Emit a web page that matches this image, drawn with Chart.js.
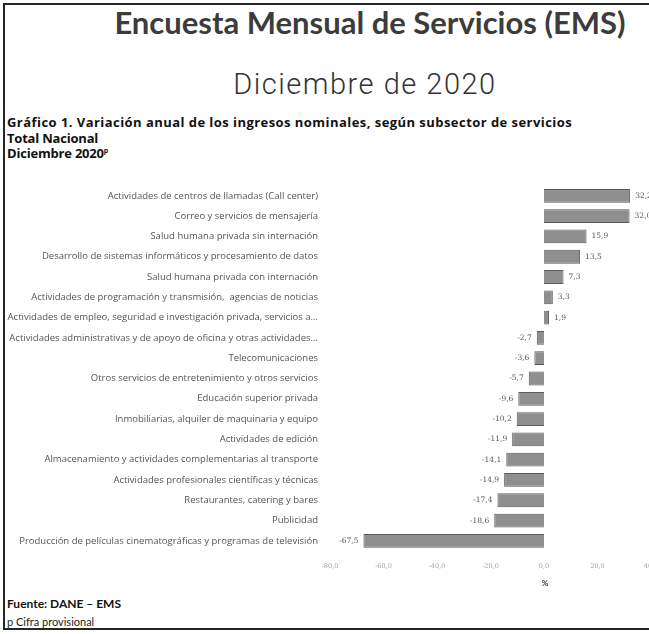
<!DOCTYPE html>
<html><head><meta charset="utf-8">
<script src="https://cdn.jsdelivr.net/npm/chart.js@4/dist/chart.umd.min.js"></script>
<style>
html,body{margin:0;padding:0;width:649px;height:634px;overflow:hidden;background:#fff;position:relative;}
.frame{position:absolute;left:3px;top:3px;width:720px;height:623px;border:2px solid #262626;}
.t1{position:absolute;left:0;width:740px;text-align:center;top:3px;font:bold 31px Lato,sans-serif;color:#3c3c3c;white-space:nowrap;}
.t2{position:absolute;left:0;width:730px;text-align:center;top:67px;font:300 29px Roboto,sans-serif;letter-spacing:1.5px;color:#333;white-space:nowrap;}
.h{position:absolute;left:7px;font:bold 13px "Open Sans",sans-serif;color:#111;white-space:nowrap;letter-spacing:0.45px;}
.f1{position:absolute;left:7px;top:596px;font:bold 12px Lato,sans-serif;color:#111;}
.f2{position:absolute;left:7px;top:615px;font:11px Lato,sans-serif;color:#222;}
#c{position:absolute;left:0;top:168px;}
</style></head>
<body>
<div class="frame"></div>
<div class="t1">Encuesta Mensual de Servicios (EMS)</div>
<div class="t2">Diciembre de 2020</div>
<div class="h" style="top:113px">Gráfico 1. Variación anual de los ingresos nominales, según subsector de servicios</div>
<div class="h" style="top:129px;letter-spacing:-0.2px">Total Nacional</div>
<div class="h" style="top:144px;letter-spacing:-0.2px">Diciembre 2020<sup style="font-size:7px">p</sup></div>
<canvas id="c" width="700" height="427"></canvas>
<div class="f1">Fuente: DANE – EMS</div>
<div class="f2">p Cifra provisional</div>
<script>
const categories = [
  "Actividades de centros de llamadas (Call center)",
  "Correo y servicios de mensajería",
  "Salud humana privada sin internación",
  "Desarrollo de sistemas informáticos y procesamiento de datos",
  "Salud humana privada con internación",
  "Actividades de programación y transmisión,  agencias de noticias",
  "Actividades de empleo, seguridad e investigación privada, servicios a...",
  "Actividades administrativas y de apoyo de oficina y otras actividades...",
  "Telecomunicaciones",
  "Otros servicios de entretenimiento y otros servicios",
  "Educación superior privada",
  "Inmobiliarias, alquiler de maquinaria y equipo",
  "Actividades de edición",
  "Almacenamiento y actividades complementarias al transporte",
  "Actividades profesionales científicas y técnicas",
  "Restaurantes, catering y bares",
  "Publicidad",
  "Producción de películas cinematográficas y programas de televisión"
];
const variacion = [32.2, 32.0, 15.9, 13.5, 7.3, 3.3, 1.9, -2.7, -3.6, -5.7, -9.6, -10.2, -11.9, -14.1, -14.9, -17.4, -18.6, -67.5];
const xTicks = [-80, -60, -40, -20, 0, 20, 40];
const unitLabel = '%';

const fmt = v => v.toFixed(1).replace('.', ',');

const valueLabels = {
  id: 'valueLabels',
  afterDatasetsDraw(chart) {
    const ctx = chart.ctx;
    const meta = chart.getDatasetMeta(0);
    ctx.save();
    ctx.font = '7.5px "DejaVu Serif", serif';
    ctx.fillStyle = '#555';
    ctx.textBaseline = 'middle';
    meta.data.forEach((bar, i) => {
      const v = chart.data.datasets[0].data[i];
      if (v >= 0) { ctx.textAlign = 'left'; ctx.fillText(fmt(v), bar.x + 5, bar.y); }
      else { ctx.textAlign = 'right'; ctx.fillText(fmt(v), bar.x - 5, bar.y); }
    });
    const xs = chart.scales.x;
    ctx.font = 'bold 8px Lato, sans-serif';
    ctx.fillStyle = '#333';
    ctx.textAlign = 'center';
    ctx.fillText(unitLabel, xs.getPixelForValue(0) + 1, xs.bottom - 12);
    ctx.restore();
  }
};

new Chart(document.getElementById('c'), {
  type: 'bar',
  data: {
    labels: categories,
    datasets: [{
      data: variacion,
      backgroundColor: '#8f8f8f',
      borderColor: '#5a5a5a',
      borderWidth: 1,
      barPercentage: 0.68,
      categoryPercentage: 1.0
    }]
  },
  options: {
    indexAxis: 'y',
    responsive: false,
    animation: false,
    layout: { padding: { top: 11.5, right: 49, left: 0, bottom: 0 } },
    plugins: { legend: { display: false }, tooltip: { enabled: false } },
    scales: {
      y: {
        grid: { display: false, drawTicks: false },
        border: { display: false },
        ticks: { color: '#555', font: { family: 'Open Sans', size: 9.5 }, padding: 12, autoSkip: false },
        afterFit(s) { s.width = 330; }
      },
      x: {
        min: -80, max: 40,
        afterBuildTicks(s) { s.ticks = xTicks.map(v => ({ value: v })); },
        grid: { display: false, drawTicks: false },
        border: { display: false },
        ticks: { color: '#a0a0a0', font: { family: 'DejaVu Serif', size: 6.5 }, padding: 11, callback: v => fmt(v) },
        afterFit(s) { s.height = 44; }
      }
    }
  },
  plugins: [valueLabels]
});
</script>
</body></html>
